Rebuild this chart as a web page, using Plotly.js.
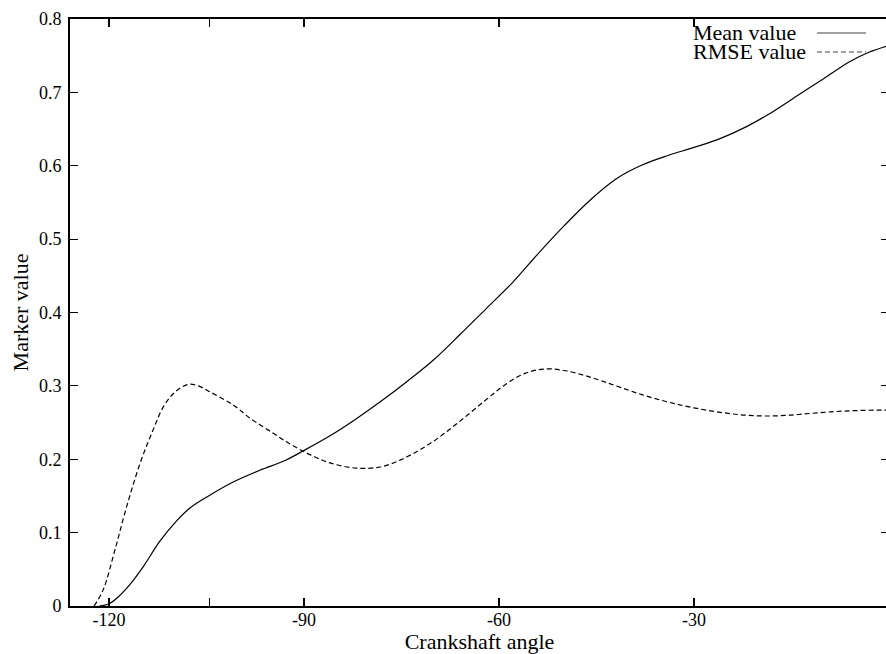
<!DOCTYPE html>
<html>
<head>
<meta charset="utf-8">
<script src="https://cdn.plot.ly/plotly-3.0.1.min.js"></script>
<style>
html,body{margin:0;padding:0;overflow:hidden;background:#fff;}
#chart{width:889px;height:654px;}
</style>
</head>
<body>
<div id="chart"></div>
<script>
// Crankshaft angle (x) and marker values
const meanX = [-121.5,-120,-118.5,-116.8,-114.7,-112.2,-109.6,-107.5,-104.5,-100.9,-96.8,-93,-90,-86,-82,-78,-74,-70,-66,-62,-58,-54,-50,-46,-42,-38,-34,-30,-26,-22,-18,-14,-10,-6,-3,0];
const meanY = [0,0.003,0.013,0.029,0.054,0.088,0.116,0.134,0.151,0.169,0.185,0.198,0.212,0.232,0.255,0.280,0.307,0.336,0.370,0.405,0.440,0.480,0.518,0.553,0.582,0.601,0.614,0.625,0.637,0.653,0.673,0.696,0.719,0.742,0.755,0.764];

const rmseX = [-122.3,-120.9,-119.1,-117.3,-115.2,-113.4,-111.6,-109.8,-107.8,-106.3,-104.5,-100.9,-98.3,-95,-92,-89,-86,-82,-78,-74,-70,-66,-62,-59,-56,-53,-50,-46,-42,-38,-34,-30,-26,-22,-18,-14,-10,-6,-2,0];
const rmseY = [0,0.022,0.076,0.135,0.195,0.236,0.272,0.292,0.302,0.300,0.292,0.274,0.256,0.237,0.220,0.206,0.195,0.188,0.190,0.204,0.225,0.252,0.281,0.302,0.317,0.323,0.321,0.312,0.300,0.288,0.278,0.270,0.264,0.260,0.259,0.261,0.264,0.266,0.267,0.267];

const xTickVals = [-120,-104.5,-90,-60,-30];
const xTickText = ['-120','','-90','-60','-30'];
const yTickVals = [0,0.1,0.2,0.3,0.4,0.5,0.6,0.7,0.8];
const yTickText = ['0','0.1','0.2','0.3','0.4','0.5','0.6','0.7','0.8'];
const seriesNames = ['Mean value','RMSE value'];

const FONT = '"Liberation Serif", "Times New Roman", Times, serif';

const traces = [
  {x: meanX, y: meanY, name: seriesNames[0], mode:'lines', line:{color:'#000', width:1.2, shape:'spline', smoothing:1}, showlegend:false, hoverinfo:'skip'},
  {x: rmseX, y: rmseY, name: seriesNames[1], mode:'lines', line:{color:'#000', width:1.2, shape:'spline', smoothing:1, dash:'5px,3px'}, showlegend:false, hoverinfo:'skip'}
];

const W = 889, H = 654, L = 70, R = 0, T = 19, B = 48;
const pw = W - L - R, ph = H - T - B;
const px = v => (v - L) / pw;
const py = v => (H - B - v) / ph;

const layout = {
  width: W, height: H,
  margin: {l: L, r: R, t: T, b: B, pad: 0},
  paper_bgcolor: '#fff', plot_bgcolor: '#fff',
  font: {family: FONT, color: '#000', size: 18},
  showlegend: false,
  xaxis: {
    range: [-126, 0], tickmode: 'array', tickvals: xTickVals, ticktext: xTickText,
    ticks: 'inside', ticklen: 8, tickwidth: 1.2, tickcolor: '#000',
    showline: true, linecolor: '#000', linewidth: 2, mirror: 'ticks',
    showgrid: false, zeroline: false, ticklabelstandoff: -4,
    tickfont: {family: FONT, size: 18, color: '#000'},
    title: {text: 'Crankshaft angle', font: {family: FONT, size: 22, color: '#000'}, standoff: 2}
  },
  yaxis: {
    range: [0, 0.8], tickmode: 'array', tickvals: yTickVals, ticktext: yTickText,
    ticks: 'inside', ticklen: 8, tickwidth: 1.2, tickcolor: '#000',
    showline: true, linecolor: '#000', linewidth: 2, mirror: 'ticks',
    showgrid: false, zeroline: false, ticklabelstandoff: 3,
    tickfont: {family: FONT, size: 18, color: '#000'},
    title: {text: 'Marker value', font: {family: FONT, size: 22, color: '#000'}, standoff: 4}
  },
  annotations: [
    {xref:'paper', yref:'paper', x: px(692), y: py(32), xanchor:'left', yanchor:'middle', text: seriesNames[0], showarrow:false, borderpad:0, font:{family:FONT, size:22, color:'#000'}},
    {xref:'paper', yref:'paper', x: px(692), y: py(51), xanchor:'left', yanchor:'middle', text: seriesNames[1], showarrow:false, borderpad:0, font:{family:FONT, size:22, color:'#000'}}
  ],
  shapes: [
    {type:'line', xref:'paper', yref:'paper', x0: px(817), x1: px(866), y0: py(33), y1: py(33), line:{color:'#444', width:1.2}},
    {type:'line', xref:'paper', yref:'paper', x0: px(817), x1: px(866), y0: py(52), y1: py(52), line:{color:'#444', width:1.2, dash:'5px,3px'}}
  ]
};

Plotly.newPlot('chart', traces, layout, {displayModeBar: false, staticPlot: true});
</script>
</body>
</html>
